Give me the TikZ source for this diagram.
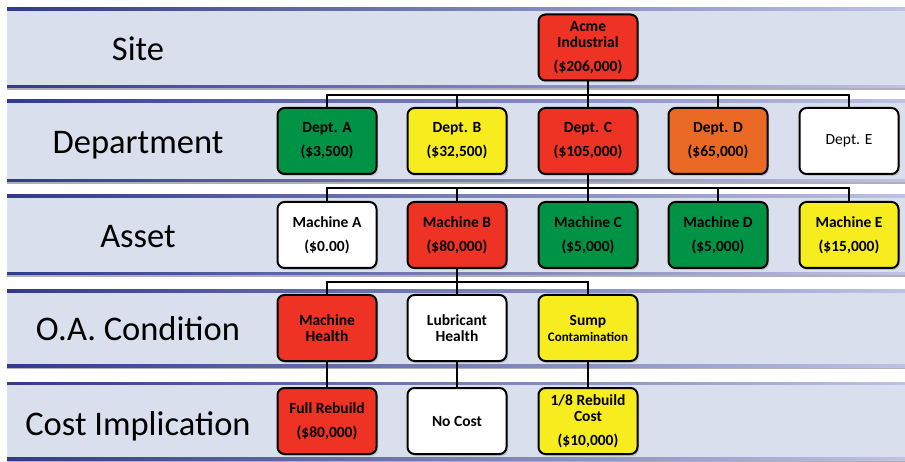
\documentclass[tikz,border=0pt]{standalone}
\usepackage{fontspec}
\setmainfont{Carlito}
\usetikzlibrary{shadows}
\definecolor{band_fill}{RGB}{217,223,236}
\definecolor{band_line}{RGB}{50,58,140}
\definecolor{band_fade}{RGB}{190,194,228}
\definecolor{band_shadow}{RGB}{175,175,180}
\definecolor{alarm_red}{RGB}{238,50,36}
\definecolor{ok_green}{RGB}{0,146,69}
\definecolor{warn_yellow}{RGB}{247,236,30}
\definecolor{high_orange}{RGB}{234,106,37}
\definecolor{white}{RGB}{255,255,255}
\definecolor{black}{RGB}{0,0,0}

\tikzset{
	lvlbox/.style={draw=black,line width=2pt,rounded corners=7pt,minimum width=99pt,minimum height=66pt,
		inner sep=0pt,align=center,font=\bfseries\fontsize{15.5}{16}\selectfont,
		drop shadow={shadow xshift=1.5pt,shadow yshift=-2pt,opacity=0.3}},
	lvllabel/.style={anchor=base,font=\fontsize{34.5}{38}\selectfont},
	link/.style={draw=black,line width=2pt},
}

\begin{document}
\begin{tikzpicture}[x=1pt,y=-1pt]
	\useasboundingbox (0,0) rectangle (905,462);
	
	% level bands
	\foreach \top/\bot/\base/\txt [count=\i] in {8/88/61/Site,100/182/154/Department,195/275/248/Asset,290/367/341/O.A. Condition,382/460/435/Cost Implication}
	{
		\fill[band_fill] (7,\top) rectangle (905,\bot);
		\shade[left color=band_line,right color=band_fade] (7,\top) rectangle (905,\top+2.5);
		\fill[band_shadow] (7,\bot) rectangle (905,\bot+2);
		\shade[left color=band_line,right color=band_fade] (7,\bot-2.5) rectangle (905,\bot);
		\node[lvllabel] (lvl\i) at (138,\base) {\txt};
	}
	
	% site
	\node[lvlbox,fill=alarm_red] (site) at (588,47.5) {Acme\\Industrial\\[8pt](\$206,000)};
	
	% departments
	\node[lvlbox,fill=ok_green] (deptA) at (327,141) {Dept. A\\[8pt](\$3,500)};
	\node[lvlbox,fill=warn_yellow] (deptB) at (457,141) {Dept. B\\[8pt](\$32,500)};
	\node[lvlbox,fill=alarm_red] (deptC) at (588,141) {Dept. C\\[8pt](\$105,000)};
	\node[lvlbox,fill=high_orange] (deptD) at (718,141) {Dept. D\\[8pt](\$65,000)};
	\node[lvlbox,fill=white,font=\fontsize{15.5}{16}\selectfont] (deptE) at (849,141) {Dept. E};
	
	% assets
	\node[lvlbox,fill=white] (machA) at (327,235) {Machine A\\[8pt](\$0.00)};
	\node[lvlbox,fill=alarm_red] (machB) at (457,235) {Machine B\\[8pt](\$80,000)};
	\node[lvlbox,fill=ok_green] (machC) at (588,235) {Machine C\\[8pt](\$5,000)};
	\node[lvlbox,fill=ok_green] (machD) at (718,235) {Machine D\\[8pt](\$5,000)};
	\node[lvlbox,fill=warn_yellow] (machE) at (849,235) {Machine E\\[8pt](\$15,000)};
	
	% oil analysis condition
	\node[lvlbox,fill=alarm_red] (condA) at (327,328) {Machine\\Health};
	\node[lvlbox,fill=white] (condB) at (457,328) {Lubricant\\Health};
	\node[lvlbox,fill=warn_yellow] (condC) at (588,328) {Sump\\{\fontsize{13}{16}\selectfont Contamination}};
	
	% cost implication
	\node[lvlbox,fill=alarm_red] (costA) at (327,421) {Full Rebuild\\[8pt](\$80,000)};
	\node[lvlbox,fill=white] (costB) at (457,421) {No Cost};
	\node[lvlbox,fill=warn_yellow] (costC) at (588,421) {1/8 Rebuild\\Cost\\[8pt](\$10,000)};
	
	% bus lines
	\coordinate (bus1) at (0,95);
	\coordinate (bus2) at (0,188);
	\coordinate (bus3) at (0,282);
	
	\draw[link] (site.south) -- (site.south |- bus1);
	\foreach \n in {deptA,deptB,deptC,deptD,deptE}
		\draw[link] (\n.north) |- (site.south |- bus1);
	
	\draw[link] (deptC.south) -- (deptC.south |- bus2);
	\foreach \n in {machA,machB,machC,machD,machE}
		\draw[link] (\n.north) |- (deptC.south |- bus2);
	
	\draw[link] (machB.south) -- (machB.south |- bus3);
	\foreach \n in {condA,condB,condC}
		\draw[link] (\n.north) |- (machB.south |- bus3);
	
	\foreach \x/\y in {condA/costA,condB/costB,condC/costC}
		\draw[link] (\x) -- (\y);
\end{tikzpicture}
\end{document}
